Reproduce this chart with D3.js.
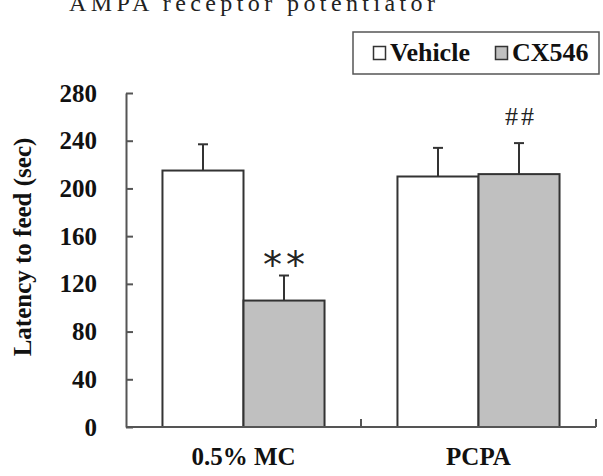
<!DOCTYPE html>
<html>
<head>
<meta charset="utf-8">
<script src="https://cdn.jsdelivr.net/npm/d3@7"></script>
<style>
  body { margin: 0; background: #fff; }
  svg { display: block; }
</style>
</head>
<body>
<svg width="603" height="476"></svg>
<script>
// data
var groups = ["0.5% MC", "PCPA"];
var series = ["Vehicle", "CX546"];
var means = [[215, 106], [210, 212]];
var errors = [[22, 21], [24, 26]];
var marks = [["", "**"], ["", "##"]];
var yTicks = [0, 40, 80, 120, 160, 200, 240, 280];

var svg = d3.select("svg");
var serif = "'Liberation Serif', 'Times New Roman', serif";
var fills = d3.scaleOrdinal().domain(series).range(["#ffffff", "#c0c0c0"]);

var x0 = d3.scaleBand().domain(groups).range([126, 596]);
var x1 = d3.scaleBand().domain(series).range([0, x0.bandwidth()]).paddingOuter(0.45);
var y = d3.scaleLinear().domain([0, 280]).range([427, 93]);

// title (cut off at top, as in the original)
svg.append("text")
  .attr("x", 69).attr("y", 11)
  .attr("font-family", serif).attr("font-size", 24)
  .attr("letter-spacing", 4.4)
  .attr("fill", "#222")
  .text("AMPA receptor potentiator");

// bars
var g = svg.append("g");
var grp = g.selectAll("g.grp")
  .data(groups)
  .enter().append("g")
  .attr("transform", function(d) { return "translate(" + x0(d) + ",0)"; });

grp.each(function(gname, gi) {
  var sel = d3.select(this);
  series.forEach(function(s, si) {
    var v = means[gi][si], e = errors[gi][si];
    var cx = x1(s) + x1.bandwidth() / 2;
    sel.append("line")
      .attr("x1", cx).attr("x2", cx)
      .attr("y1", y(v)).attr("y2", y(v + e))
      .attr("stroke", "#333").attr("stroke-width", 2);
    sel.append("line")
      .attr("x1", cx - 5).attr("x2", cx + 5)
      .attr("y1", y(v + e)).attr("y2", y(v + e))
      .attr("stroke", "#333").attr("stroke-width", 2);
    sel.append("rect")
      .attr("x", x1(s)).attr("width", x1.bandwidth())
      .attr("y", y(v)).attr("height", y(0) - y(v))
      .attr("fill", fills(s))
      .attr("stroke", "#333").attr("stroke-width", 2);
    var m = marks[gi][si];
    if (m == "**") {
      sel.append("text")
        .attr("x", cx + 2).attr("y", y(v + e) + 2)
        .attr("text-anchor", "middle")
        .attr("font-family", "'DejaVu Sans', sans-serif").attr("font-size", 38)
        .attr("letter-spacing", 4)
        .attr("fill", "#222")
        .text(m);
    } else if (m == "##") {
      sel.append("text")
        .attr("x", cx + 2).attr("y", y(v + e) - 18)
        .attr("text-anchor", "middle")
        .attr("font-family", serif).attr("font-size", 26)
        .attr("letter-spacing", 3)
        .attr("fill", "#222")
        .text(m);
    }
  });
});

// y axis
var yAxis = d3.axisLeft(y)
  .tickValues(yTicks)
  .tickSizeInner(-7)
  .tickSizeOuter(0)
  .tickPadding(29);
var ya = svg.append("g")
  .attr("transform", "translate(126,0)")
  .call(yAxis);
ya.selectAll("path, line").attr("stroke", "#555").attr("stroke-width", 2);
ya.selectAll("text")
  .attr("font-family", serif).attr("font-size", 25)
  .attr("font-weight", "bold").attr("fill", "#111");

// x axis
svg.append("line")
  .attr("x1", x0.range()[0]).attr("x2", x0.range()[1])
  .attr("y1", y(0)).attr("y2", y(0))
  .attr("stroke", "#555").attr("stroke-width", 2);
svg.selectAll("line.xt")
  .data(groups)
  .enter().append("line")
  .attr("class", "xt")
  .attr("x1", function(d) { return x0(d) + x0.bandwidth(); })
  .attr("x2", function(d) { return x0(d) + x0.bandwidth(); })
  .attr("y1", y(0)).attr("y2", y(0) - 8)
  .attr("stroke", "#555").attr("stroke-width", 2);
svg.selectAll("text.xl")
  .data(groups)
  .enter().append("text")
  .attr("class", "xl")
  .attr("x", function(d) { return x0(d) + x0.bandwidth() / 2; })
  .attr("y", 465)
  .attr("text-anchor", "middle")
  .attr("font-family", serif).attr("font-size", 25)
  .attr("font-weight", "bold").attr("fill", "#111")
  .text(function(d) { return d; });

// y label
svg.append("text")
  .attr("transform", "translate(31,247) rotate(-90)")
  .attr("text-anchor", "middle")
  .attr("font-family", serif).attr("font-size", 25)
  .attr("font-weight", "bold").attr("fill", "#111")
  .text("Latency to feed (sec)");

// legend
var lg = svg.append("g");
lg.append("rect")
  .attr("x", 353).attr("y", 32).attr("width", 246).attr("height", 42)
  .attr("fill", "#fff").attr("stroke", "#555").attr("stroke-width", 1.5);
var lx = [373, 495];
var item = lg.selectAll("g")
  .data(series)
  .enter().append("g")
  .attr("transform", function(d, i) { return "translate(" + lx[i] + ",0)"; });
item.append("rect")
  .attr("x", 0.5).attr("y", 46.5).attr("width", 12).attr("height", 13)
  .attr("fill", fills).attr("stroke", "#333").attr("stroke-width", 1.5);
item.append("text")
  .attr("x", 17).attr("y", 61)
  .attr("font-family", serif).attr("font-size", 26)
  .attr("font-weight", "bold").attr("fill", "#111")
  .text(function(d) { return d; });
</script>
</body>
</html>
